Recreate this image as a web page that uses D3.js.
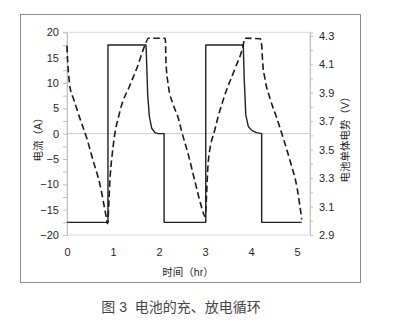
<!DOCTYPE html>
<html>
<head>
<meta charset="utf-8">
<script src="https://cdn.jsdelivr.net/npm/d3@7"></script>
<style>
  html, body { margin: 0; padding: 0; background: #fff; }
  svg text { font-family: "Liberation Sans", Arial, "Noto Sans CJK SC", sans-serif; }
</style>
</head>
<body>
<svg id="chart" width="395" height="329"></svg>
<script>
// Tick values for the three axes
const timeTicks = [0, 1, 2, 3, 4, 5];
const currentTicks = [-20, -15, -10, -5, 0, 5, 10, 15, 20];
const voltTicks = [2.9, 3.1, 3.3, 3.5, 3.7, 3.9, 4.1, 4.3];

// Cell current (A) over time (hr)
const currentTime = [0, 0.89, 0.89, 1.717, 1.73, 1.754, 1.789, 1.84, 1.91, 1.98, 2.11, 2.11,
  3.015, 3.015, 3.83, 3.85, 3.885, 3.94, 4.02, 4.12, 4.23, 4.23, 5.1];
const currentAmps = [-17.5, -17.5, 17.5, 17.5, 14.2, 7.6, 3.4, 1.07, 0.2, 0, 0, -17.5,
  -17.5, 17.5, 17.5, 10.9, 3.7, 1.4, 0.6, 0.2, 0, -17.5, -17.5];

// Cell potential (V) over time (hr)
const voltTime = [0, 0.01, 0.03, 0.07, 0.14, 0.28, 0.43, 0.57, 0.72, 0.85, 0.88,
  0.935, 1.007, 1.15, 1.37, 1.515, 1.696, 1.77, 2.13,
  2.14, 2.15, 2.2, 2.31, 2.42, 2.49, 2.64, 2.78, 2.93, 3.0,
  3.07, 3.22, 3.43, 3.65, 3.83, 3.86, 4.2,
  4.23, 4.25, 4.3, 4.41, 4.56, 4.70, 4.85, 5.0, 5.1];
const voltValues = [4.23, 4.15, 4.05, 3.93, 3.86, 3.72, 3.58, 3.42, 3.25, 3.03, 2.98,
  3.30, 3.534, 3.77, 3.955, 4.07, 4.236, 4.283, 4.283,
  4.262, 4.12, 3.955, 3.815, 3.72, 3.63, 3.46, 3.277, 3.09, 3.03,
  3.418, 3.65, 3.885, 4.07, 4.236, 4.283, 4.28,
  4.236, 4.12, 4.0, 3.862, 3.72, 3.58, 3.418, 3.23, 3.01];

const svg = d3.select("#chart");
const plot = { left: 67, right: 310, top: 32.3, bottom: 235 };
const textColor = "#1f1f1f";

const x = d3.scaleLinear().domain([0, 5.28]).range([plot.left, plot.right]);
const yI = d3.scaleLinear().domain([-20, 20]).range([plot.bottom, plot.top]);
const yV = d3.scaleLinear().domain([2.9, 4.325]).range([plot.bottom, plot.top]);

// Outer chart frame
svg.append("rect")
  .attr("x", 20.5).attr("y", 14.5).attr("width", 340).attr("height", 268)
  .attr("fill", "none").attr("stroke", "#8c8c8c").attr("stroke-width", 1);

// Plot area border
svg.append("rect")
  .attr("x", plot.left).attr("y", plot.top)
  .attr("width", plot.right - plot.left).attr("height", plot.bottom - plot.top)
  .attr("fill", "none").attr("stroke", "#d9d9d9").attr("stroke-width", 1);

// Zero-current line
svg.append("line")
  .attr("x1", plot.left).attr("x2", plot.right)
  .attr("y1", yI(0)).attr("y2", yI(0))
  .attr("stroke", "#c8c8c8").attr("stroke-width", 1);

// Left axis (current)
const leftAxis = svg.append("g").attr("transform", `translate(${plot.left},0)`)
  .call(d3.axisLeft(yI).tickValues(d3.range(-20, 20.01, 2.5)).tickSize(4)
    .tickFormat(d => currentTicks.includes(d) ? d3.format("d")(d) : ""));
leftAxis.select(".domain").attr("stroke", "#bfbfbf");
leftAxis.selectAll(".tick line").attr("stroke", "#bfbfbf");
leftAxis.selectAll(".tick text").attr("fill", textColor).attr("font-size", 11).attr("x", -8);

// Right axis (voltage)
const rightAxis = svg.append("g").attr("transform", `translate(${plot.right},0)`)
  .call(d3.axisRight(yV).tickValues(d3.range(29, 43.5, 1).map(v => v / 10)).tickSize(3)
    .tickFormat(d => voltTicks.some(t => Math.abs(t - d) < 1e-9) ? d3.format(".1f")(d) : ""));
rightAxis.select(".domain").attr("stroke", "#bfbfbf");
rightAxis.selectAll(".tick line").attr("stroke", "#bfbfbf");
rightAxis.selectAll(".tick text").attr("fill", textColor).attr("font-size", 11).attr("x", 9);

// Bottom axis (time)
const bottomAxis = svg.append("g").attr("transform", `translate(0,${plot.bottom})`)
  .call(d3.axisBottom(x).tickValues(timeTicks).tickSize(0).tickFormat(d3.format("d")));
bottomAxis.select(".domain").remove();
bottomAxis.selectAll(".tick text").attr("fill", textColor).attr("font-size", 11).attr("y", 13);

// Axis titles
svg.append("text").attr("x", 188).attr("y", 276).attr("text-anchor", "middle")
  .attr("font-size", 10.5).attr("fill", textColor).text("时间（hr）");
svg.append("text").attr("transform", `translate(42,137) rotate(-90)`)
  .attr("text-anchor", "middle").attr("font-size", 10.5).attr("fill", textColor).text("电流（A）");
svg.append("text").attr("transform", `translate(349,137) rotate(-90)`)
  .attr("text-anchor", "middle").attr("font-size", 10.5).attr("fill", textColor).text("电池单体电势（V）");

// Current series (solid)
const currentLine = d3.line().x(d => x(d[0])).y(d => yI(d[1]));
svg.append("path")
  .datum(d3.zip(currentTime, currentAmps))
  .attr("d", currentLine)
  .attr("fill", "none").attr("stroke", "#231f20").attr("stroke-width", 1.4)
  .attr("stroke-linejoin", "round");

// Voltage series (dashed)
const voltLine = d3.line().x(d => x(d[0])).y(d => yV(d[1])).curve(d3.curveMonotoneX);
svg.append("path")
  .datum(d3.zip(voltTime, voltValues))
  .attr("d", voltLine)
  .attr("fill", "none").attr("stroke", "#1a1a1a").attr("stroke-width", 1.6)
  .attr("stroke-dasharray", "6.5,3.5");

// Figure caption
svg.append("text").attr("x", 181).attr("y", 312).attr("text-anchor", "middle")
  .attr("font-size", 14).attr("fill", "#444").attr("xml:space", "preserve")
  .text("图 3  电池的充、放电循环");
</script>
</body>
</html>
